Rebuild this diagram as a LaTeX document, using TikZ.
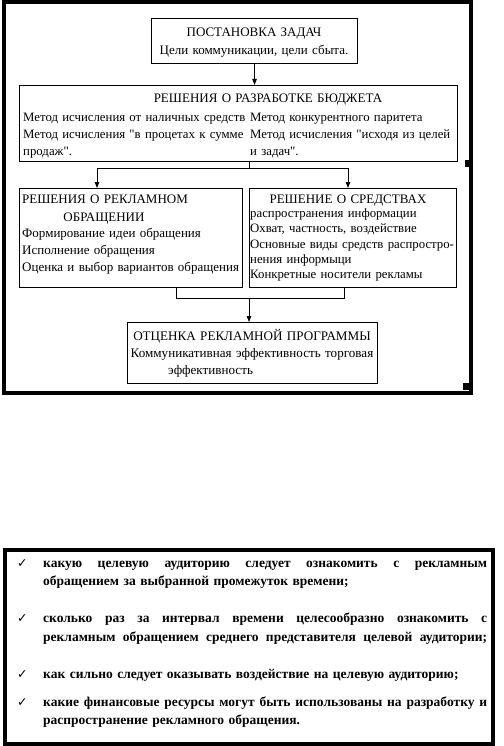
\documentclass[tikz,border=0pt]{standalone}
\usepackage{fontspec}
\setmainfont{Liberation Serif}[Ligatures=TeXOff]
\newfontfamily\checkfont{DejaVu Sans}
\usetikzlibrary{arrows.meta,positioning}
\newcommand{\boxfont}{\fontsize{13}{17}\selectfont}
\newcommand{\listfont}{\fontsize{13.5}{18.4}\selectfont\bfseries}
\newcommand{\fullline}[1]{\makebox[444pt][s]{\spaceskip=0.25em plus 1fil minus 0.1em\relax #1}}

\begin{document}
\begin{tikzpicture}[
    x=1pt, y=-1pt,
    font=\boxfont,
    box/.style={draw, line width=1.1pt, inner sep=0pt, anchor=north west},
    txt/.style={inner sep=0pt, anchor=base west, align=left},
    ctxt/.style={inner sep=0pt, anchor=base, align=center},
    frame/.style={line width=4pt},
    arrow/.style={-{Triangle[length=6pt,width=4.5pt]}, line width=0.9pt},
    link/.style={line width=0.9pt}
]
  \useasboundingbox (0,0) rectangle (503,746);

  % upper scheme
  \draw[frame] (4,2.5) rectangle (470.5,392.5);
  \fill (465,160) rectangle (472,167);
  \fill (463,383) rectangle (470,390);

  \node[box, minimum width=206pt, minimum height=45pt] (task) at (151,18) {};
  \node[box, minimum width=438pt, minimum height=76pt] (budget) at (19,85) {};
  \node[box, minimum width=223pt, minimum height=99pt] (msg) at (19,188) {};
  \node[box, minimum width=207pt, minimum height=99pt, right=6pt of msg.north east, anchor=north west] (media) {};
  \node[box, minimum width=250pt, minimum height=61pt] (eval) at (127,322) {};

  \node[ctxt, text width=206pt] (tasktxt) at (254,37) {ПОСТАНОВКА ЗАДАЧ\\[1pt]Цели коммуникации, цели сбыта.};

  \node[ctxt, text width=300pt] (budgettitle) at (268,103) {РЕШЕНИЯ О РАЗРАБОТКЕ БЮДЖЕТА};
  \node[txt, text width=226pt, font=\fontsize{12.8}{17}\selectfont] (budgetl) at (23,122) {Метод исчисления от наличных средств\\Метод исчисления "в процетах к сумме\\продаж".};
  \node[txt, text width=205pt, font=\fontsize{12.8}{17}\selectfont] (budgetr) at (250,122) {Метод конкурентного паритета\\Метод исчисления "исходя из целей\\и задач".};

  \node[txt, text width=220pt] (msgtitle) at (22,204) {РЕШЕНИЯ О РЕКЛАМНОМ};
  \node[ctxt, text width=120pt] (msgtitle2) at (104,221.5) {ОБРАЩЕНИИ};
  \node[txt, text width=220pt] (msgtxt) at (22,237) {Формирование идеи обращения\\Исполнение обращения\\Оценка и выбор вариантов обращения};

  \node[ctxt, text width=200pt] (mediatitle) at (348,204) {РЕШЕНИЕ О СРЕДСТВАХ};
  \node[txt, text width=215pt, font=\fontsize{12.8}{15.3}\selectfont] (mediatxt) at (250,217.5) {распространения информации\\Охват, частность, воздействие\\Основные виды средств распростро-\\нения информыци\\Конкретные носители рекламы};

  \node[ctxt, text width=250pt, font=\fontsize{13.1}{16.7}\selectfont] (evaltxt) at (252,340.5) {ОТЦЕНКА РЕКЛАМНОЙ ПРОГРАММЫ\\Коммуникативная эффективность торговая};
  \node[txt, font=\fontsize{13.1}{16.7}\selectfont] (evaltxt2) at (168,374) {эффективность};

  \coordinate (split) at (249,168);
  \coordinate (msgin) at (97,188);
  \coordinate (mediain) at (348,188);
  \coordinate (msgout) at (176,287);
  \coordinate (mediaout) at (344,287);
  \coordinate (join) at (249,298);

  \draw[arrow] (task.south) -- (task.south |- budget.north);
  \draw[link] (budget.south -| split) -- (split);
  \draw[arrow] (split) -| (msgin);
  \draw[arrow] (split) -| (mediain);
  \draw[link] (msgout) |- (join);
  \draw[link] (mediaout) |- (join);
  \draw[arrow] (join) -- (eval.north -| join);

  % lower list
  \draw[frame] (4.5,550) rectangle (493,744);
  \foreach \y [count=\i] in {567,622,678,706.5}
    \node[txt, font=\checkfont\fontsize{12.5}{13}\selectfont] (chk\i) at (17,\y) {✓};

  \node[txt, text width=444pt, font=\listfont] (aud) at (43,567) {\fullline{какую целевую аудиторию следует ознакомить с рекламным}\\обращением за выбранной промежуток времени;};
  \node[txt, text width=444pt, font=\listfont] (freq) at (43,622) {\fullline{сколько раз за интервал времени целесообразно ознакомить с}\\[1.5pt]\fullline{рекламным обращением среднего представителя целевой аудитории;}};
  \node[txt, text width=444pt, font=\listfont] (impact) at (43,678) {как сильно следует оказывать воздействие на целевую аудиторию;};
  \node[txt, text width=444pt, font=\listfont] (funds) at (43,706.5) {\fullline{какие финансовые ресурсы могут быть использованы на разработку и}\\распространение рекламного обращения.};
\end{tikzpicture}
\end{document}
